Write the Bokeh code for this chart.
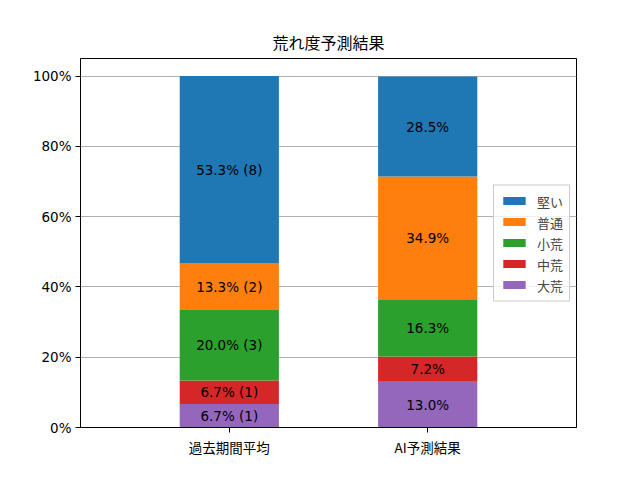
import numpy as np
from bokeh.plotting import figure
from bokeh.models import ColumnDataSource, FixedTicker, Range1d, Legend, LegendItem, Title
from bokeh.core.properties import value
from bokeh.embed import file_html
from bokeh.resources import INLINE

# ---- data ----
categories = ["過去期間平均", "AI予測結果"]
levels = ["大荒", "中荒", "小荒", "普通", "堅い"]          # stacking order, bottom -> top
colors = ["#9467bd", "#d62728", "#2ca02c", "#ff7f0e", "#1f77b4"]
past_pct = [6.7, 6.7, 20.0, 13.3, 53.3]
past_counts = [1, 1, 3, 2, 8]
ai_pct = [13.0, 7.2, 16.3, 34.9, 28.5]
y_ticks = [0, 20, 40, 60, 80, 100]
title_text = "荒れ度予測結果"

JP = "Noto Sans CJK JP"
LAT = "DejaVu Sans"

xs = [0, 1]
data = {"x": xs}
for i, lv in enumerate(levels):
    data[lv] = [past_pct[i], ai_pct[i]]
src = ColumnDataSource(data)

p = figure(width=632, height=472, output_backend="svg", toolbar_location=None,
           x_range=Range1d(-0.75, 1.75), y_range=Range1d(0, 105),
           min_border_left=80, min_border_right=56, min_border_top=58, min_border_bottom=45)
p.title = Title(text=title_text, align="center", text_font=JP, text_font_size="16px",
                text_font_style="normal", text_color="black")

renderers = p.vbar_stack(levels, x="x", width=0.5, color=colors, source=src, line_width=0)

# labels
labels_x, labels_y, labels_t = [], [], []
for bi, (pcts, cnts) in enumerate([(past_pct, past_counts), (ai_pct, None)]):
    cum = np.cumsum([0] + pcts)
    for i, v in enumerate(pcts):
        labels_x.append(xs[bi])
        labels_y.append((cum[i] + cum[i + 1]) / 2)
        labels_t.append(f"{v:.1f}% ({cnts[i]})" if cnts else f"{v:.1f}%")
p.text(x=labels_x, y=labels_y, text=labels_t, text_align="center", text_baseline="middle",
       text_font=value(LAT), text_font_size="13.5px", text_color="black")

# axes
p.xaxis.ticker = FixedTicker(ticks=xs)
p.xaxis.major_label_overrides = {x: c for x, c in zip(xs, categories)}
p.xaxis.major_label_text_font = JP
p.yaxis.ticker = FixedTicker(ticks=y_ticks)
p.yaxis.major_label_overrides = {t: f"{t}%" for t in y_ticks}
p.yaxis.major_label_text_font = LAT
for ax in (p.xaxis, p.yaxis):
    ax.major_label_text_font_size = "13.5px"
    ax.major_label_text_color = "black"
    ax.axis_line_color = "black"
    ax.major_tick_line_color = "black"
    ax.major_tick_out = 5
    ax.major_tick_in = 0
    ax.minor_tick_line_color = None
    ax.major_label_standoff = 4
p.xgrid.grid_line_color = None
p.ygrid.grid_line_color = "#b0b0b0"
p.ygrid.grid_line_width = 1
p.outline_line_color = "black"
p.outline_line_alpha = 1
p.outline_line_width = 1

items = [LegendItem(label=levels[i], renderers=[renderers[i]]) for i in reversed(range(len(levels)))]
legend = Legend(items=items, location="right", margin=6, padding=6,
                label_text_font=JP, label_text_font_size="13px",
                glyph_width=28, glyph_height=10, label_height=18, spacing=2, label_standoff=9,
                border_line_color="#cccccc", border_line_alpha=1, background_fill_alpha=0.8)
p.add_layout(legend, "center")

open("out.html", "w").write(file_html(p, INLINE))
